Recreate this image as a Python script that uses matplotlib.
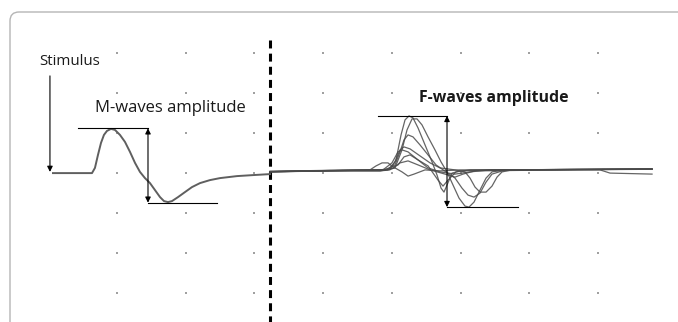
import matplotlib
matplotlib.use("Agg")
import matplotlib.pyplot as plt
from matplotlib.patches import FancyBboxPatch
from matplotlib.transforms import IdentityTransform

# ---------------- data (time in ms, amplitude in mV) ----------------
# M-wave trace (single sweep)
m_time = [0.0, 5.68, 6.11, 6.55, 6.99, 7.42, 7.86, 8.44, 9.02, 9.75, 10.48, 11.21,
          11.94, 12.66, 13.39, 14.12, 14.85, 15.58, 16.16, 16.74, 17.32, 18.20,
          19.21, 20.23, 21.40, 22.85, 24.31, 26.78, 29.11, 31.59]
m_amp = [-0.03, -0.03, 0.23, 0.88, 1.48, 1.88, 2.08, 2.18, 2.13, 1.88, 1.53, 1.03,
         0.48, 0.03, -0.28, -0.53, -0.88, -1.23, -1.43, -1.48, -1.43, -1.23,
         -0.98, -0.73, -0.53, -0.38, -0.28, -0.18, -0.13, -0.08]

# F-wave sweeps (superimposed)
f1_time = [31.59, 40.32, 47.60, 49.05, 49.93, 50.66, 51.24, 51.82, 52.40, 53.13, 54.15,
           55.17, 55.90, 56.48, 56.91, 57.35, 58.08, 59.24, 65.07, 76.71, 87.19]
f1_amp = [0.04, 0.08, 0.08, 0.13, 0.63, 1.88, 2.63, 2.83, 2.73, 2.23, 1.38,
          0.53, -0.13, -0.78, -0.98, -0.63, -0.03, 0.08, 0.13, 0.15, 0.17]

f2_time = [31.59, 40.32, 48.33, 49.78, 50.80, 51.53, 52.26, 52.98, 53.71, 54.59, 55.60,
           56.48, 57.35, 58.23, 59.10, 59.97, 60.55, 61.28, 62.15, 63.03, 63.90, 65.79,
           76.71, 87.19]
f2_amp = [0.03, 0.09, 0.13, 0.23, 1.13, 2.13, 2.68, 2.68, 2.38, 1.78, 1.13,
          0.53, 0.03, -0.63, -1.28, -1.68, -1.73, -1.48, -0.88, -0.28, 0.03, 0.13,
          0.16, 0.18]

f3_time = [31.59, 40.32, 48.33, 49.78, 50.51, 51.09, 51.68, 52.40, 53.42, 54.59, 55.75,
           57.21, 58.52, 59.53, 60.41, 61.28, 62.15, 63.03, 63.90, 65.79, 76.71, 87.19]
f3_amp = [0.05, 0.10, 0.13, 0.38, 1.03, 1.63, 1.88, 1.78, 1.38, 0.88, 0.38,
          0.03, -0.28, -0.78, -1.13, -1.23, -1.03, -0.48, -0.08, 0.12, 0.14, 0.16]

f4_time = [31.59, 40.32, 48.76, 49.78, 50.51, 51.09, 51.97, 53.42, 54.88, 56.33, 58.52,
           59.97, 60.70, 61.43, 62.15, 63.03, 63.90, 64.63, 65.36, 66.81, 76.71, 87.19]
f4_amp = [0.06, 0.11, 0.13, 0.53, 1.13, 1.28, 1.18, 0.83, 0.48, 0.23, 0.13,
          0.03, -0.28, -0.73, -0.98, -0.98, -0.68, -0.23, 0.03, 0.13, 0.16, 0.18]

f5_time = [31.59, 40.32, 48.03, 49.34, 50.22, 50.80, 51.68, 53.13, 54.59, 56.04, 56.77,
           57.50, 58.66, 60.70, 76.71, 87.19]
f5_amp = [0.04, 0.09, 0.13, 0.48, 1.03, 1.13, 1.03, 0.63, 0.33, -0.38, -0.68,
          -0.38, 0.03, 0.13, 0.15, 0.17]

f6_time = [31.59, 40.32, 46.14, 47.02, 47.89, 48.76, 49.49, 50.22, 51.09, 51.97, 53.13,
           54.59, 56.33, 58.52, 60.70, 63.61, 76.71, 87.19]
f6_amp = [0.05, 0.10, 0.13, 0.33, 0.48, 0.48, 0.28, 0.38, 0.78, 0.88, 0.63,
          0.23, 0.03, -0.08, 0.03, 0.13, 0.15, 0.16]

f7_time = [31.59, 40.32, 47.60, 49.34, 50.51, 51.68, 53.13, 54.88, 57.06, 58.52, 59.68,
           61.43, 76.71, 87.19]
f7_amp = [0.03, 0.08, 0.08, 0.18, 0.48, 0.58, 0.38, 0.13, -0.08, -0.23, -0.08,
          0.08, 0.14, 0.17]

f8_time = [31.59, 40.32, 47.60, 49.78, 50.80, 51.68, 52.55, 54.15, 56.33, 59.24, 76.71,
           79.62, 81.08, 87.19]
f8_amp = [0.04, 0.09, 0.13, 0.23, 0.03, -0.18, -0.08, 0.13, 0.08, 0.13, 0.14,
          0.13, -0.03, -0.08]

f_sweeps = [(f1_time, f1_amp), (f2_time, f2_amp), (f3_time, f3_amp), (f4_time, f4_amp),
            (f5_time, f5_amp), (f6_time, f6_amp), (f7_time, f7_amp), (f8_time, f8_amp)]

# screen grid (10 ms / div, 2 mV / div)
grid_time = [9.32, 19.32, 29.32, 39.32, 49.32, 59.32, 69.32, 79.32]
grid_amp = [6, 4, 2, 0, -2, -4, -6]

# annotation values
stim_time = -0.44
stim_top, stim_bottom = 4.83, 0.03
separator_time = 31.6
separator_top = 6.63
m_peak, m_trough = 2.21, -1.51
m_peak_line = (3.64, 13.83)
m_trough_line = (13.83, 23.87)
f_peak, f_trough = 2.83, -1.73
f_peak_line = (47.31, 57.35)
f_trough_line = (57.35, 67.69)

# ---------------- figure ----------------
fig = plt.figure(figsize=(6.78, 3.22), dpi=100)
fig.patch.set_facecolor("white")
ax = fig.add_axes([0, 0, 1, 1])
ax.set_xlim(-7.71, 90.97)
ax.set_ylim(-7.475, 8.625)
ax.axis("off")

# rounded frame (display pixels)
frame = FancyBboxPatch((10, -60), 800, 322 - 12 + 60,
                       boxstyle="round,pad=0,rounding_size=9",
                       transform=IdentityTransform(), facecolor="none",
                       edgecolor="#b5b5b5", linewidth=1.0, clip_on=False)
fig.patches.append(frame)

# dots
for gx in grid_time:
    ax.plot([gx] * len(grid_amp), grid_amp, linestyle="none", marker="s",
            markersize=1.5, color="#a0a0a0", markeredgewidth=0)

# separator
ax.plot([separator_time, separator_time], [separator_top, -7.6], color="black",
        linewidth=2.2, linestyle=(0, (2.6, 1.7)), solid_capstyle="butt")

# traces
ax.plot(m_time, m_amp, color="#5f5f5f", linewidth=1.4)
for t, a in f_sweeps:
    ax.plot(t, a, color="#4a4a4a", linewidth=0.9, alpha=0.85)

# stimulus arrow
ax.annotate("", xy=(stim_time, stim_bottom), xytext=(stim_time, stim_top),
            arrowprops=dict(arrowstyle="-|>", color="black", lw=0.8,
                            mutation_scale=8, shrinkA=0, shrinkB=0))
ax.text(-2.04, 5.53, "Stimulus", fontsize=10.8, family="Open Sans",
        ha="left", va="center", color="#1a1a1a")

# M-wave amplitude markers
ax.plot(list(m_peak_line), [m_peak, m_peak], color="black", lw=0.8)
ax.plot(list(m_trough_line), [m_trough, m_trough], color="black", lw=0.8)
ax.annotate("", xy=(m_peak_line[1], m_trough), xytext=(m_peak_line[1], m_peak),
            arrowprops=dict(arrowstyle="<|-|>", color="black", lw=0.8,
                            mutation_scale=8, shrinkA=0, shrinkB=0))
ax.text(6.1, 3.23, "M-waves amplitude", fontsize=12, family="Open Sans",
        ha="left", va="center", color="#1a1a1a")

# F-wave amplitude markers
ax.plot(list(f_peak_line), [f_peak, f_peak], color="black", lw=0.8)
ax.plot(list(f_trough_line), [f_trough, f_trough], color="black", lw=0.8)
ax.annotate("", xy=(f_peak_line[1], f_trough), xytext=(f_peak_line[1], f_peak),
            arrowprops=dict(arrowstyle="<|-|>", color="black", lw=0.8,
                            mutation_scale=8, shrinkA=0, shrinkB=0))
ax.text(53.3, 3.73, "F-waves amplitude", fontsize=11.4, family="Open Sans",
        fontweight="bold", ha="left", va="center", color="#1a1a1a")

fig.savefig("out.png", dpi=100, facecolor="white")
